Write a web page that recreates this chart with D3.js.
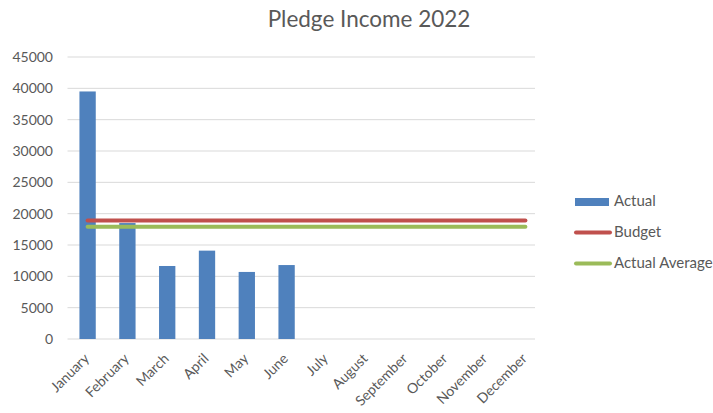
<!DOCTYPE html>
<html>
<head>
<meta charset="utf-8">
<script src="https://cdn.jsdelivr.net/npm/d3@7"></script>
<style>
  html, body { margin: 0; padding: 0; background: #fff; }
  text { font-family: Lato, "Open Sans", sans-serif; fill: #595959; }
</style>
</head>
<body>
<div id="chart"></div>
<script>
const months = ['January', 'February', 'March', 'April', 'May', 'June', 'July',
  'August', 'September', 'October', 'November', 'December'];
const actual = [39500, 18500, 11650, 14100, 10700, 11800, null, null, null, null, null, null];
const budget = [18900, 18900, 18900, 18900, 18900, 18900, 18900, 18900, 18900, 18900, 18900, 18900];
const actualAverage = [17900, 17900, 17900, 17900, 17900, 17900, 17900, 17900, 17900, 17900, 17900, 17900];
const yTicks = [0, 5000, 10000, 15000, 20000, 25000, 30000, 35000, 40000, 45000];

const width = 713, height = 413;
const margin = { left: 67.5, right: 167.5, top: 57, bottom: 74 };
const gridRight = 535;

const svg = d3.select('#chart').append('svg')
  .attr('width', width)
  .attr('height', height);

const x = d3.scaleBand()
  .domain(months)
  .range([margin.left, width - margin.right])
  .paddingInner(0.59)
  .paddingOuter(0.3);

const y = d3.scaleLinear()
  .domain([0, 45000])
  .range([height - margin.bottom, margin.top]);

// gridlines
svg.append('g')
  .selectAll('line')
  .data(yTicks)
  .enter().append('line')
  .attr('x1', margin.left)
  .attr('x2', gridRight)
  .attr('y1', d => y(d))
  .attr('y2', d => y(d))
  .attr('stroke', '#d9d9d9')
  .attr('stroke-width', 1);

// y labels
svg.append('g')
  .selectAll('text')
  .data(yTicks)
  .enter().append('text')
  .attr('x', 53)
  .attr('y', d => y(d))
  .attr('dy', '0.35em')
  .attr('text-anchor', 'end')
  .style('font-size', '14px')
  .text(d => d);

// bars
svg.append('g')
  .selectAll('rect')
  .data(months.map((m, i) => ({ m, v: actual[i] })).filter(d => d.v != null))
  .enter().append('rect')
  .attr('x', d => x(d.m))
  .attr('width', x.bandwidth())
  .attr('y', d => y(d.v))
  .attr('height', d => y(0) - y(d.v))
  .attr('fill', '#4f81bd');

const center = m => x(m) + x.bandwidth() / 2;
const line = d3.line()
  .x(d => center(d.m))
  .y(d => y(d.v));

svg.append('path')
  .datum(months.map((m, i) => ({ m, v: budget[i] })))
  .attr('d', line)
  .attr('fill', 'none')
  .attr('stroke', '#c0504d')
  .attr('stroke-width', 4)
  .attr('stroke-linecap', 'round');

svg.append('path')
  .datum(months.map((m, i) => ({ m, v: actualAverage[i] })))
  .attr('d', line)
  .attr('fill', 'none')
  .attr('stroke', '#9bbb59')
  .attr('stroke-width', 4)
  .attr('stroke-linecap', 'round');

// x labels, rotated
svg.append('g')
  .selectAll('text')
  .data(months)
  .enter().append('text')
  .attr('transform', d => `translate(${center(d) - 1},${y(0) + 17}) rotate(-45)`)
  .attr('text-anchor', 'end')
  .attr('dy', '0.35em')
  .style('font-size', '14px')
  .text(d => d);

// title
svg.append('text')
  .attr('x', 369)
  .attr('y', 27)
  .attr('text-anchor', 'middle')
  .style('font-size', '22.5px')
  .text('Pledge Income 2022');

// legend
const legend = svg.append('g');
legend.append('rect')
  .attr('x', 575).attr('y', 198)
  .attr('width', 34).attr('height', 8)
  .attr('fill', '#4f81bd');
legend.append('line')
  .attr('x1', 576).attr('x2', 610)
  .attr('y1', 232.5).attr('y2', 232.5)
  .attr('stroke', '#c0504d').attr('stroke-width', 4).attr('stroke-linecap', 'round');
legend.append('line')
  .attr('x1', 576).attr('x2', 610)
  .attr('y1', 263.5).attr('y2', 263.5)
  .attr('stroke', '#9bbb59').attr('stroke-width', 4).attr('stroke-linecap', 'round');
[['Actual', 201], ['Budget', 232], ['Actual Average', 263]].forEach(([t, ty]) => {
  legend.append('text')
    .attr('x', 614)
    .attr('y', ty)
    .attr('dy', '0.35em')
    .style('font-size', '15px')
    .text(t);
});
</script>
</body>
</html>
